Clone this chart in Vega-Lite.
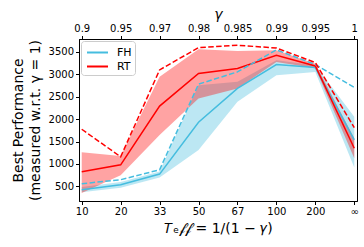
{
  "$schema": "https://vega.github.io/schema/vega-lite/v6.json",
  "autosize": {"type": "none"},
  "padding": {"left": 79, "top": 39, "right": 7, "bottom": 46},
  "width": 278,
  "height": 162,
  "data": {"values": [
    {"series": "FH", "idx": 0, "mean": 427, "lo": 370, "hi": 490, "best": 560},
    {"series": "FH", "idx": 1, "mean": 538, "lo": 470, "hi": 600, "best": 650},
    {"series": "FH", "idx": 2, "mean": 775, "lo": 700, "hi": 830, "best": 870},
    {"series": "FH", "idx": 3, "mean": 1928, "lo": 1314, "hi": 2750, "best": 2777},
    {"series": "FH", "idx": 4, "mean": 2682, "lo": 2385, "hi": 2830, "best": 3050},
    {"series": "FH", "idx": 5, "mean": 3214, "lo": 2977, "hi": 3309, "best": 3540},
    {"series": "FH", "idx": 6, "mean": 3147, "lo": 3050, "hi": 3200, "best": 3214},
    {"series": "FH", "idx": 7, "mean": 1535, "lo": 921, "hi": 2052, "best": 2704},
    {"series": "RT", "idx": 0, "mean": 826, "lo": 354, "hi": 1263, "best": 1773},
    {"series": "RT", "idx": 1, "mean": 981, "lo": 750, "hi": 1180, "best": 1160},
    {"series": "RT", "idx": 2, "mean": 2289, "lo": 1643, "hi": 2939, "best": 3094},
    {"series": "RT", "idx": 3, "mean": 3014, "lo": 2460, "hi": 3553, "best": 3591},
    {"series": "RT", "idx": 4, "mean": 3125, "lo": 2680, "hi": 3516, "best": 3642},
    {"series": "RT", "idx": 5, "mean": 3420, "lo": 3271, "hi": 3531, "best": 3582},
    {"series": "RT", "idx": 6, "mean": 3183, "lo": 3130, "hi": 3230, "best": 3258},
    {"series": "RT", "idx": 7, "mean": 1351, "lo": 1130, "hi": 1573, "best": 1808}
  ]},
  "config": {
    "font": "DejaVu Sans",
    "view": {"stroke": "black", "strokeWidth": 1},
    "axis": {
      "grid": false,
      "labelFont": "DejaVu Sans",
      "labelFontSize": 10,
      "labelColor": "#000",
      "tickColor": "#000",
      "domainColor": "#000",
      "tickSize": 3.5,
      "labelPadding": 2,
      "titleFont": "DejaVu Sans",
      "titleFontWeight": "normal",
      "titleColor": "#000"
    },
    "legend": {
      "orient": "top-left",
      "offset": 2,
      "title": null,
      "strokeColor": "#cccccc",
      "fillColor": "white",
      "padding": 3,
      "cornerRadius": 3,
      "symbolType": "M-1.4,0H1.4",
      "symbolStrokeWidth": 2,
      "symbolSize": 225,
      "symbolOffset": 5,
      "symbolOpacity": 1,
      "labelOffset": 11,
      "labelFont": "DejaVu Sans",
      "labelFontSize": 11,
      "labelColor": "#000",
      "rowPadding": 0
    }
  },
  "resolve": {"axis": {"x": "independent"}},
  "encoding": {
    "x": {
      "field": "idx",
      "type": "quantitative",
      "scale": {"domain": [-0.07, 7.07], "nice": false, "zero": false}
    },
    "y": {
      "type": "quantitative",
      "scale": {"domain": [176, 3782], "nice": false, "zero": false},
      "axis": {
        "values": [500, 1000, 1500, 2000, 2500, 3000, 3500],
        "format": "d",
        "title": ["Best Performance", "(measured w.r.t. γ = 1)"],
        "titleFontSize": 14,
        "titlePadding": 6,
        "titleLineHeight": 17
      }
    },
    "color": {
      "field": "series",
      "type": "nominal",
      "scale": {"domain": ["FH", "RT"], "range": ["#45bddf", "#ff0000"]}
    }
  },
  "layer": [
    {
      "mark": {"type": "area", "opacity": 0.36},
      "encoding": {
        "x": {
          "field": "idx",
          "type": "quantitative",
          "axis": {
            "orient": "bottom",
            "values": [0, 1, 2, 3, 4, 5, 6, 7],
            "labelExpr": "['10','20','33','50','67','100','200','∞'][datum.value]",
            "title": "𝑇ₑ𝒻𝒻 = 1/(1 − 𝛾)",
            "titleFontSize": 14,
            "titlePadding": 5
          }
        },
        "y": {"field": "lo"},
        "y2": {"field": "hi"}
      }
    },
    {
      "mark": {"type": "line", "strokeWidth": 1.5},
      "encoding": {
        "x": {
          "field": "idx",
          "type": "quantitative",
          "axis": {
            "orient": "top",
            "values": [0, 1, 2, 3, 4, 5, 6, 7],
            "labelExpr": "['0.9','0.95','0.97','0.98','0.985','0.99','0.995','1'][datum.value]",
            "title": "γ",
            "titleFontSize": 14,
            "titleFontStyle": "italic",
            "titlePadding": 2
          }
        },
        "y": {"field": "mean"}
      }
    },
    {
      "mark": {"type": "line", "strokeWidth": 1.5, "strokeDash": [5.5, 2.4]},
      "encoding": {
        "x": {"field": "idx", "type": "quantitative", "axis": null},
        "y": {"field": "best"}
      }
    }
  ]
}
